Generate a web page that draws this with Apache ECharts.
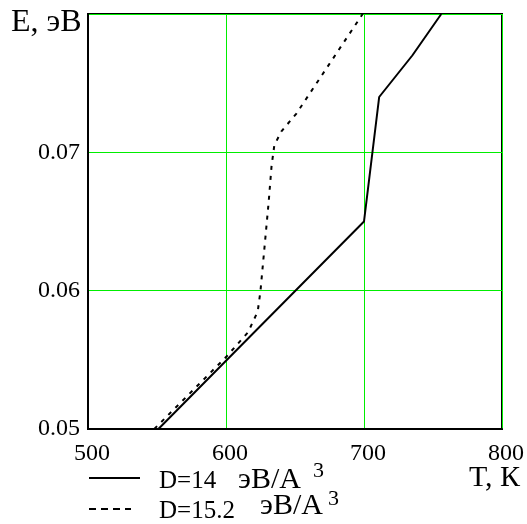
<!DOCTYPE html>
<html>
<head>
<meta charset="utf-8">
<script src="https://cdn.jsdelivr.net/npm/echarts@6/dist/echarts.min.js"></script>
<style>
  html, body { margin: 0; padding: 0; background: #fff; }
  #chart { width: 527px; height: 524px; }
</style>
</head>
<body>
<div id="chart"></div>
<script>
// D=14 curve
var solidT = [551, 700, 711, 735, 756];
var solidE = [0.05, 0.065, 0.074, 0.077, 0.08];
// D=15.2 curve
var dashedT = [548, 600, 616, 623, 625, 631, 633, 635, 640, 651, 699];
var dashedE = [0.05, 0.0552, 0.057, 0.0585, 0.06, 0.0665, 0.069, 0.0705, 0.0715, 0.0728, 0.08];

var xTicks = [500, 600, 700, 800];
var yTicks = [0.05, 0.06, 0.07, 0.08];

var FONT = 'Liberation Serif';
var green = '#00ee00';

function pairs(xs, ys) {
  return xs.map(function (x, i) { return [x, ys[i]]; });
}

var chart = echarts.init(document.getElementById('chart'));

var option = {
  animation: false,
  backgroundColor: '#fff',
  grid: {
    left: 88, right: 20, top: 14, bottom: 95,
    show: true, borderColor: '#000', borderWidth: 2
  },
  xAxis: {
    type: 'value',
    min: xTicks[0], max: xTicks[xTicks.length - 1], interval: 100,
    axisLine: { show: true, lineStyle: { color: '#000', width: 2 } },
    axisTick: { show: false },
    splitLine: { show: true, lineStyle: { color: green, width: 1 } },
    axisLabel: {
      color: '#000', fontFamily: FONT, fontSize: 24, margin: 13,
      padding: [0, 0, 0, 8]
    }
  },
  yAxis: {
    type: 'value',
    min: yTicks[0], max: yTicks[yTicks.length - 1], interval: 0.01,
    axisLine: { show: true, lineStyle: { color: '#000', width: 2 } },
    axisTick: { show: false },
    splitLine: { show: true, lineStyle: { color: green, width: 1 } },
    axisLabel: {
      color: '#000', fontFamily: FONT, fontSize: 24, margin: 8,
      padding: [16, 0, 0, 0],
      showMaxLabel: false,
      formatter: function (v) { return v.toFixed(2); }
    }
  },
  series: [
    {
      type: 'line',
      data: pairs(solidT, solidE),
      symbol: 'none',
      lineStyle: { color: '#000', width: 2 },
      z: 5
    },
    {
      type: 'line',
      data: pairs(dashedT, dashedE),
      symbol: 'none',
      lineStyle: { color: '#000', width: 2, type: [4, 6] },
      z: 5
    }
  ],
  graphic: [
    { type: 'text', left: 11, top: 7,
      style: { text: 'E, эВ', font: '32px ' + FONT, fill: '#000' } },
    { type: 'text', right: 7, top: 463,
      style: { text: 'T, К', font: '30px ' + FONT, fill: '#000' } },
    // legend row 1
    { type: 'line', shape: { x1: 89, y1: 478, x2: 140, y2: 478 },
      style: { stroke: '#000', lineWidth: 2 } },
    { type: 'text', x: 159, y: 481,
      style: { text: 'D=14', font: '25px ' + FONT, fill: '#000', verticalAlign: 'middle' } },
    { type: 'text', x: 238, y: 480,
      style: { text: 'эВ/А', font: '30px ' + FONT, fill: '#000', verticalAlign: 'middle' } },
    { type: 'text', x: 313, y: 471,
      style: { text: '3', font: '22px ' + FONT, fill: '#000', verticalAlign: 'middle' } },
    // legend row 2
    { type: 'line', shape: { x1: 89, y1: 509, x2: 131, y2: 509 },
      style: { stroke: '#000', lineWidth: 2, lineDash: [7, 5] } },
    { type: 'text', x: 159, y: 511,
      style: { text: 'D=15.2', font: '25px ' + FONT, fill: '#000', verticalAlign: 'middle' } },
    { type: 'text', x: 260, y: 506,
      style: { text: 'эВ/А', font: '30px ' + FONT, fill: '#000', verticalAlign: 'middle' } },
    { type: 'text', x: 328, y: 499,
      style: { text: '3', font: '22px ' + FONT, fill: '#000', verticalAlign: 'middle' } }
  ]
};

chart.setOption(option);
</script>
</body>
</html>
